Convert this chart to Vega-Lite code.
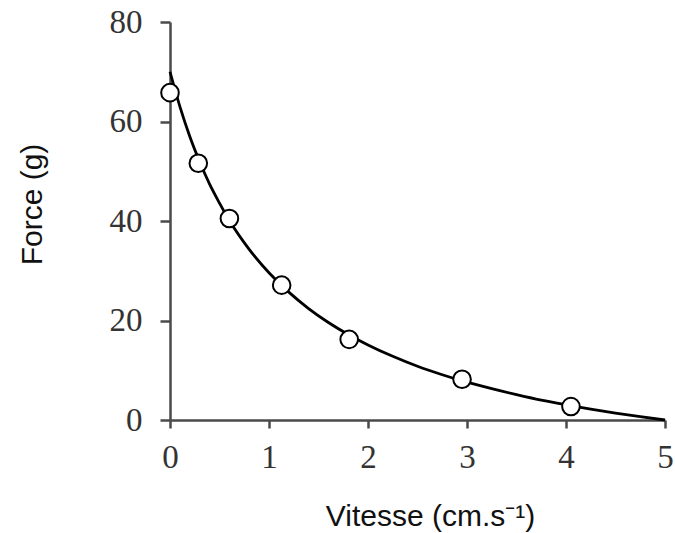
{
  "$schema": "https://vega.github.io/schema/vega-lite/v6.json",
  "width": 495,
  "height": 398,
  "autosize": {"type": "none"},
  "padding": {"left": 170, "top": 22, "right": 10, "bottom": 113},
  "background": "white",
  "config": {"view": {"stroke": null}},
  "datasets": {
    "curve": [
      {"v": 0, "f": 70}, {"v": 0.1, "f": 63.0}, {"v": 0.2, "f": 57.0}, {"v": 0.3, "f": 51.9},
      {"v": 0.4, "f": 47.4}, {"v": 0.5, "f": 43.6}, {"v": 0.6, "f": 40.1}, {"v": 0.8, "f": 34.3},
      {"v": 1.0, "f": 29.6}, {"v": 1.2, "f": 25.7}, {"v": 1.4, "f": 22.4}, {"v": 1.6, "f": 19.6},
      {"v": 1.8, "f": 17.2}, {"v": 2.0, "f": 15.1}, {"v": 2.25, "f": 12.8}, {"v": 2.5, "f": 10.8},
      {"v": 2.75, "f": 9.1}, {"v": 3.0, "f": 7.6}, {"v": 3.25, "f": 6.3}, {"v": 3.5, "f": 5.1},
      {"v": 3.75, "f": 4.0}, {"v": 4.0, "f": 3.06}, {"v": 4.25, "f": 2.19}, {"v": 4.5, "f": 1.39},
      {"v": 4.75, "f": 0.67}, {"v": 5.0, "f": 0}
    ],
    "points": [
      {"v": 0, "f": 65.8}, {"v": 0.286, "f": 51.6}, {"v": 0.6, "f": 40.5}, {"v": 1.128, "f": 27.1},
      {"v": 1.81, "f": 16.2}, {"v": 2.95, "f": 8.2}, {"v": 4.05, "f": 2.7}
    ]
  },
  "encoding": {
    "x": {
      "field": "v", "type": "quantitative",
      "scale": {"domain": [0, 5], "nice": false, "zero": false},
      "axis": {
        "title": "Vitesse (cm.s⁻¹)",
        "values": [0, 1, 2, 3, 4, 5],
        "grid": false,
        "domainColor": "#4a4a4a", "domainWidth": 2.5,
        "tickColor": "#4a4a4a", "tickWidth": 2.5, "tickSize": 8,
        "labelFont": "Liberation Serif", "labelFontSize": 33, "labelColor": "#333",
        "labelPadding": 13, "labelFlush": false,
        "titleFont": "Liberation Sans", "titleFontSize": 30, "titleFontWeight": "normal", "titleColor": "#111",
        "titleX": 260, "titleY": 105, "titleBaseline": "alphabetic", "titleAnchor": null, "titleAlign": "center"
      }
    },
    "y": {
      "field": "f", "type": "quantitative",
      "scale": {"domain": [0, 80], "nice": false},
      "axis": {
        "title": "Force (g)",
        "values": [0, 20, 40, 60, 80],
        "grid": false,
        "domainColor": "#4a4a4a", "domainWidth": 2.5,
        "tickColor": "#4a4a4a", "tickWidth": 2.5, "tickSize": 10,
        "labelFont": "Liberation Serif", "labelFontSize": 33, "labelColor": "#333",
        "labelPadding": 18, "labelFlush": false,
        "titleFont": "Liberation Sans", "titleFontSize": 30, "titleFontWeight": "normal", "titleColor": "#111",
        "titleAngle": -90, "titleX": -129, "titleY": 182, "titleBaseline": "alphabetic", "titleAlign": "center"
      }
    }
  },
  "layer": [
    {
      "data": {"name": "curve"},
      "mark": {"type": "line", "color": "black", "strokeWidth": 2.8, "interpolate": "monotone", "clip": false}
    },
    {
      "data": {"name": "points"},
      "mark": {"type": "point", "shape": "circle", "filled": true, "fill": "white", "stroke": "black", "strokeWidth": 2, "size": 310, "opacity": 1}
    }
  ]
}
